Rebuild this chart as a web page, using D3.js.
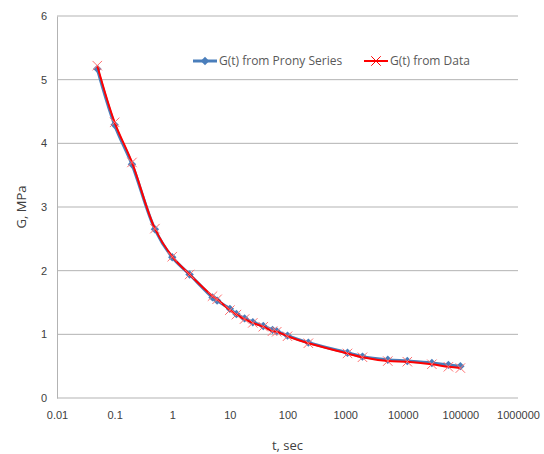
<!DOCTYPE html>
<html>
<head>
<meta charset="utf-8">
<script src="https://cdn.jsdelivr.net/npm/d3@7"></script>
<style>
  body { margin: 0; background: #fff; }
  svg { font-family: "Open Sans", sans-serif; }
  .tick text { fill: #404040; font-size: 11px; }
  .label { fill: #404040; font-size: 13px; }
  .legend text { fill: #595959; font-size: 12px; }
</style>
</head>
<body>
<svg width="544" height="454"></svg>
<script>
// time points, seconds
const times = [0.05, 0.1, 0.2, 0.5, 1, 2, 5, 6, 10, 13, 18, 25, 38, 55, 65, 100, 230,
  1100, 2000, 5500, 12000, 32000, 62000, 100000];
// G(t) from Prony Series, MPa
const pronyG = [5.17, 4.29, 3.67, 2.65, 2.21, 1.94, 1.58, 1.53, 1.40, 1.32, 1.25, 1.19, 1.13,
  1.07, 1.05, 0.98, 0.87, 0.71, 0.65, 0.60, 0.58, 0.55, 0.52, 0.50];
// G(t) from Data, MPa
const dataG = [5.22, 4.33, 3.70, 2.66, 2.22, 1.94, 1.60, 1.55, 1.38, 1.31, 1.24, 1.18, 1.12,
  1.05, 1.04, 0.97, 0.86, 0.70, 0.64, 0.58, 0.57, 0.53, 0.49, 0.47];
const xTicks = [0.01, 0.1, 1, 10, 100, 1000, 10000, 100000, 1000000];
const yTicks = [0, 1, 2, 3, 4, 5, 6];
const seriesNames = ['G(t) from Prony Series', 'G(t) from Data'];

const plotLeft = 57, plotRight = 518, plotTop = 16, plotBottom = 398;

const svg = d3.select('svg');

const xScale = d3.scaleLog().domain([0.01, 1000000]).range([plotLeft, plotRight]);
const yScale = d3.scaleLinear().domain([0, 6]).range([plotBottom, plotTop]);

// horizontal gridlines
svg.append('g')
  .selectAll('line')
  .data(yTicks)
  .enter()
  .append('line')
  .attr('x1', plotLeft)
  .attr('x2', plotRight)
  .attr('y1', (d) => yScale(d))
  .attr('y2', (d) => yScale(d))
  .attr('stroke', '#b3b3b3')
  .attr('stroke-width', 1);

// y axis
const yAxis = svg.append('g')
  .attr('transform', `translate(${plotLeft}, 0)`)
  .call(d3.axisLeft(yScale).tickValues(yTicks).tickSize(0).tickPadding(10).tickFormat(d3.format('d')));
yAxis.select('.domain').attr('stroke', '#b3b3b3');

// x axis
const xAxis = svg.append('g')
  .attr('transform', `translate(0, ${plotBottom})`)
  .call(d3.axisBottom(xScale).tickValues(xTicks).tickSize(0).tickPadding(13)
    .tickFormat((d) => d < 1 ? String(d) : d3.format('d')(d)));
xAxis.select('.domain').remove();

// axis titles
svg.append('text')
  .attr('class', 'label')
  .attr('transform', `translate(26, ${(plotTop + plotBottom) / 2}) rotate(-90)`)
  .attr('text-anchor', 'middle')
  .text('G, MPa');

svg.append('text')
  .attr('class', 'label')
  .attr('x', xScale(100))
  .attr('y', 450)
  .attr('text-anchor', 'middle')
  .text('t, sec');

const prony = times.map((t, i) => ({ t: t, g: pronyG[i] }));
const data = times.map((t, i) => ({ t: t, g: dataG[i] }));

const line = d3.line()
  .x((d) => xScale(d.t))
  .y((d) => yScale(d.g))
  .curve(d3.curveCatmullRom);

// prony series: blue line + diamonds
svg.append('path')
  .datum(prony)
  .attr('d', line)
  .attr('fill', 'none')
  .attr('stroke', '#4a7ebb')
  .attr('stroke-width', 3);

const diamond = d3.symbol().type(d3.symbolDiamond2).size(45);
svg.append('g')
  .selectAll('path')
  .data(prony)
  .enter()
  .append('path')
  .attr('d', diamond)
  .attr('transform', (d) => `translate(${xScale(d.t)}, ${yScale(d.g)})`)
  .attr('fill', '#4a7ebb');

// data: red line + crosses
svg.append('path')
  .datum(data)
  .attr('d', line)
  .attr('fill', 'none')
  .attr('stroke', '#ff0000')
  .attr('stroke-width', 2);

const cross = d3.symbol().type(d3.symbolX).size(60);
svg.append('g')
  .selectAll('path')
  .data(data)
  .enter()
  .append('path')
  .attr('d', cross)
  .attr('transform', (d) => `translate(${xScale(d.t)}, ${yScale(d.g)})`)
  .attr('fill', 'none')
  .attr('stroke', '#ff7070')
  .attr('stroke-width', 1);

// legend
const legend = svg.append('g').attr('class', 'legend');
const legendItems = [
  { x: 193, color: '#4a7ebb', width: 3, name: seriesNames[0], marker: diamond },
  { x: 364, color: '#ff0000', width: 2, name: seriesNames[1], marker: cross }
];
legendItems.forEach((item) => {
  legend.append('line')
    .attr('x1', item.x).attr('x2', item.x + 24)
    .attr('y1', 61).attr('y2', 61)
    .attr('stroke', item.color)
    .attr('stroke-width', item.width);
  const m = legend.append('path')
    .attr('d', item.marker)
    .attr('transform', `translate(${item.x + 12}, 61)`);
  if (item.marker === diamond) {
    m.attr('fill', item.color);
  } else {
    m.attr('fill', 'none').attr('stroke', item.color).attr('stroke-width', 1);
  }
  legend.append('text')
    .attr('x', item.x + 26)
    .attr('y', 65)
    .text(item.name);
});
</script>
</body>
</html>
